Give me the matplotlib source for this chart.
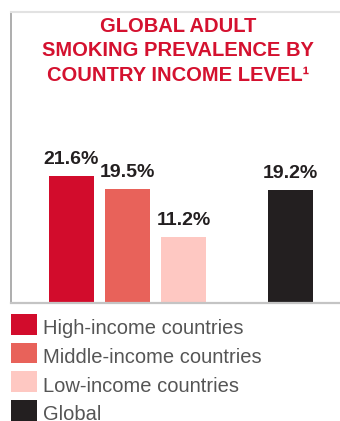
import matplotlib
matplotlib.use("Agg")
import matplotlib.pyplot as plt
from matplotlib.patches import Rectangle

plt.rcParams['font.family'] = ['Liberation Sans', 'DejaVu Sans']

# Data
categories = ["High-income countries", "Middle-income countries",
              "Low-income countries", "Global"]
prevalence = [21.6, 19.5, 11.2, 19.2]
value_labels = ["21.6%", "19.5%", "11.2%", "19.2%"]
colors = ["#d20c2c", "#e8625a", "#fec8c2", "#231f20"]
positions = [0, 1, 2, 3.91]

W, H = 340, 421
PX_PER_UNIT = 5.87
fig = plt.figure(figsize=(W / 100, H / 100), dpi=100)

# Plot panel: left edge x=11, top y=12, baseline y=303 (pixels)
ax = fig.add_axes([11 / W, (H - 303) / H, (W - 11) / W, 291 / H])
ax.bar(positions, prevalence, width=0.8, color=colors, edgecolor="none")
ax.set_xlim(-1.08, -1.08 + 329 / 56)
ax.set_ylim(0, 291 / PX_PER_UNIT)

for x, v, lab in zip(positions, prevalence, value_labels):
    ax.text(x, v + 12 / PX_PER_UNIT, lab, ha="center", va="baseline",
            fontsize=14, fontweight="bold", color="#231f20")

ax.set_xticks([])
ax.set_yticks([])
for side in ["top", "right"]:
    ax.spines[side].set_visible(False)
ax.spines["left"].set_color("#a0a0a0")
ax.spines["left"].set_linewidth(1.2)
ax.spines["bottom"].set_color("#c4c4c4")
ax.spines["bottom"].set_linewidth(1.6)

# faint top rule
fig.add_artist(plt.Line2D([11 / W, 1], [(H - 12) / H, (H - 12) / H],
                          color="#e2e2e2", lw=1.5, transform=fig.transFigure))

# Title
title_lines = ["GLOBAL ADULT", "SMOKING PREVALENCE BY", "COUNTRY INCOME LEVEL\u00b9"]
for i, line in enumerate(title_lines):
    fig.text(178 / W, 1 - (32 + 24.5 * i) / H, line, ha="center", va="baseline",
             fontsize=14.5, fontweight="bold", color="#d4112f")

# Legend
for i, (cat, col) in enumerate(zip(categories, colors)):
    top = 314 + 28.7 * i
    fig.add_artist(Rectangle((11 / W, 1 - (top + 20.5) / H), 26 / W, 20.5 / H,
                             transform=fig.transFigure, facecolor=col,
                             edgecolor="none"))
    fig.text(43 / W, 1 - (top + 20.3) / H, cat, ha="left", va="baseline",
             fontsize=14.5, color="#555555")

fig.savefig("out.png", dpi=100)
